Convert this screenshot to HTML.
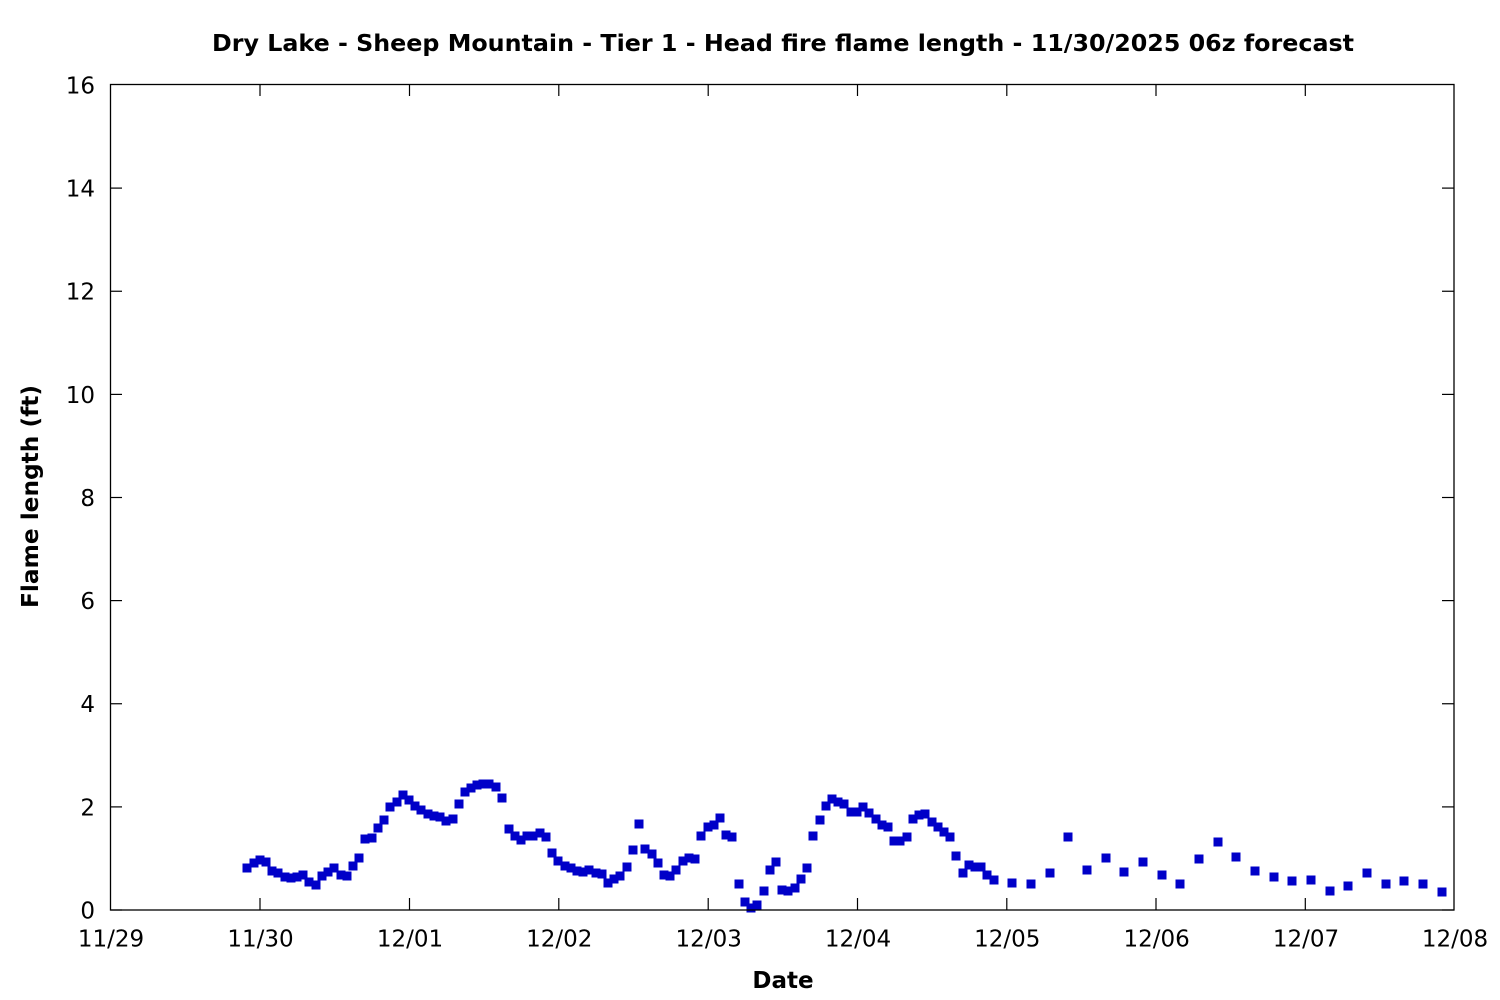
<!DOCTYPE html>
<html>
<head>
<meta charset="utf-8">
<style>
html,body{margin:0;padding:0;background:#fff;}
svg{display:block;}
text{font-family:"DejaVu Sans","Liberation Sans",sans-serif;fill:#000;}
</style>
</head>
<body>
<svg width="1500" height="1000" viewBox="0 0 1500 1000" xmlns="http://www.w3.org/2000/svg">
<rect x="0" y="0" width="1500" height="1000" fill="#fff"/>

<!-- Title -->
<text x="783" y="51" text-anchor="middle" font-size="23" font-weight="bold" textLength="1142" lengthAdjust="spacingAndGlyphs">Dry Lake - Sheep Mountain - Tier 1 - Head fire flame length - 11/30/2025 06z forecast</text>

<!-- Y label -->
<text transform="translate(38,496.5) rotate(-90)" x="0" y="0" text-anchor="middle" font-size="23" font-weight="bold" textLength="223" lengthAdjust="spacingAndGlyphs">Flame length (ft)</text>

<!-- X label -->
<text x="783" y="988" text-anchor="middle" font-size="23" font-weight="bold">Date</text>

<!-- Y ticks -->
<g stroke="#000" stroke-width="1.2">
<line x1="110.5" y1="910" x2="122" y2="910"/><line x1="1454" y1="910" x2="1442" y2="910"/>
<line x1="110.5" y1="806.9" x2="122" y2="806.9"/><line x1="1454" y1="806.9" x2="1442" y2="806.9"/>
<line x1="110.5" y1="703.75" x2="122" y2="703.75"/><line x1="1454" y1="703.75" x2="1442" y2="703.75"/>
<line x1="110.5" y1="600.6" x2="122" y2="600.6"/><line x1="1454" y1="600.6" x2="1442" y2="600.6"/>
<line x1="110.5" y1="497.5" x2="122" y2="497.5"/><line x1="1454" y1="497.5" x2="1442" y2="497.5"/>
<line x1="110.5" y1="394.4" x2="122" y2="394.4"/><line x1="1454" y1="394.4" x2="1442" y2="394.4"/>
<line x1="110.5" y1="291.25" x2="122" y2="291.25"/><line x1="1454" y1="291.25" x2="1442" y2="291.25"/>
<line x1="110.5" y1="188.1" x2="122" y2="188.1"/><line x1="1454" y1="188.1" x2="1442" y2="188.1"/>
</g>
<g stroke="#000" stroke-width="1.2">
<line x1="260" y1="910" x2="260" y2="898"/><line x1="260" y1="85" x2="260" y2="96"/>
<line x1="409.5" y1="910" x2="409.5" y2="898"/><line x1="409.5" y1="85" x2="409.5" y2="96"/>
<line x1="558.8" y1="910" x2="558.8" y2="898"/><line x1="558.8" y1="85" x2="558.8" y2="96"/>
<line x1="708.2" y1="910" x2="708.2" y2="898"/><line x1="708.2" y1="85" x2="708.2" y2="96"/>
<line x1="857.5" y1="910" x2="857.5" y2="898"/><line x1="857.5" y1="85" x2="857.5" y2="96"/>
<line x1="1006.8" y1="910" x2="1006.8" y2="898"/><line x1="1006.8" y1="85" x2="1006.8" y2="96"/>
<line x1="1156" y1="910" x2="1156" y2="898"/><line x1="1156" y1="85" x2="1156" y2="96"/>
<line x1="1305.3" y1="910" x2="1305.3" y2="898"/><line x1="1305.3" y1="85" x2="1305.3" y2="96"/>
</g>

<!-- Y tick labels -->
<g font-size="23" text-anchor="end">
<text x="95" y="918.5">0</text>
<text x="95" y="815.4">2</text>
<text x="95" y="712.2">4</text>
<text x="95" y="609.1">6</text>
<text x="95" y="506">8</text>
<text x="95" y="402.9">10</text>
<text x="95" y="299.7">12</text>
<text x="95" y="196.6">14</text>
<text x="95" y="93.5">16</text>
</g>

<!-- X tick labels -->
<g font-size="23" text-anchor="middle">
<text x="111" y="946.5">11/29</text>
<text x="260.5" y="946.5">11/30</text>
<text x="410" y="946.5">12/01</text>
<text x="559.3" y="946.5">12/02</text>
<text x="708.7" y="946.5">12/03</text>
<text x="858" y="946.5">12/04</text>
<text x="1007.3" y="946.5">12/05</text>
<text x="1156.6" y="946.5">12/06</text>
<text x="1306" y="946.5">12/07</text>
<text x="1455" y="946.5">12/08</text>
</g>

<!-- Data points -->
<path fill="#0000c8" d="
M242.5 863.5h9v9h-9z M249.5 858.5h9v9h-9z M255.5 855.5h9v9h-9z M261.5 857.5h9v9h-9z M267.5 866.5h9v9h-9z
M273.5 868.5h9v9h-9z M280.5 872.5h9v9h-9z M286.5 873.5h9v9h-9z M292.5 872.5h9v9h-9z M298.5 870.5h9v9h-9z
M304.5 877.5h9v9h-9z M311.5 880.5h9v9h-9z M317.5 871.5h9v9h-9z M323.5 867.5h9v9h-9z M329.5 863.5h9v9h-9z
M336.5 870.5h9v9h-9z M342.5 871.5h9v9h-9z M348.5 861.5h9v9h-9z M354.5 853.5h9v9h-9z M360.5 834.5h9v9h-9z
M367.5 833.5h9v9h-9z M373.5 823.5h9v9h-9z M379.5 815.5h9v9h-9z M385.5 802.5h9v9h-9z M392.5 797.5h9v9h-9z
M398.5 790.5h9v9h-9z M404.5 795.5h9v9h-9z M410.5 801.5h9v9h-9z M416.5 805.5h9v9h-9z M423.5 809.5h9v9h-9z
M429.5 811.5h9v9h-9z M435.5 812.5h9v9h-9z M441.5 816.5h9v9h-9z M448.5 814.5h9v9h-9z M454.5 799.5h9v9h-9z
M460.5 787.5h9v9h-9z M466.5 783.5h9v9h-9z M472.5 780.5h9v9h-9z M478.5 779.5h9v9h-9z M484.5 779.5h9v9h-9z
M491.5 782.5h9v9h-9z M497.5 793.5h9v9h-9z M504.5 824.5h9v9h-9z M510.5 831.5h9v9h-9z M516.5 835.5h9v9h-9z
M522.5 831.5h9v9h-9z M528.5 831.5h9v9h-9z M535.5 828.5h9v9h-9z M541.5 832.5h9v9h-9z M547.5 848.5h9v9h-9z
M553.5 856.5h9v9h-9z M560.5 861.5h9v9h-9z M566.5 863.5h9v9h-9z M572.5 866.5h9v9h-9z M578.5 867.5h9v9h-9z
M584.5 865.5h9v9h-9z M591.5 868.5h9v9h-9z M597.5 869.5h9v9h-9z M603.5 878.5h9v9h-9z M609.5 874.5h9v9h-9z
M615.5 871.5h9v9h-9z M622.5 862.5h9v9h-9z M628.5 845.5h9v9h-9z M634.5 819.5h9v9h-9z M640.5 844.5h9v9h-9z
M647.5 849.5h9v9h-9z M653.5 858.5h9v9h-9z M659.5 870.5h9v9h-9z M665.5 871.5h9v9h-9z M671.5 865.5h9v9h-9z
M678.5 856.5h9v9h-9z M684.5 853.5h9v9h-9z M690.5 854.5h9v9h-9z M696.5 831.5h9v9h-9z M703.5 822.5h9v9h-9z
M709.5 820.5h9v9h-9z M715.5 813.5h9v9h-9z M721.5 830.5h9v9h-9z M727.5 832.5h9v9h-9z M734.5 879.5h9v9h-9z
M740.5 897.5h9v9h-9z M746.5 903.5h9v9h-9z M752.5 900.5h9v9h-9z M759.5 886.5h9v9h-9z M765.5 865.5h9v9h-9z
M771.5 857.5h9v9h-9z M777.5 885.5h9v9h-9z M783.5 886.5h9v9h-9z M790.5 883.5h9v9h-9z M796.5 874.5h9v9h-9z
M802.5 863.5h9v9h-9z M808.5 831.5h9v9h-9z M815.5 815.5h9v9h-9z M821.5 801.5h9v9h-9z M827.5 794.5h9v9h-9z
M833.5 797.5h9v9h-9z M839.5 799.5h9v9h-9z M846.5 807.5h9v9h-9z M852.5 807.5h9v9h-9z M858.5 802.5h9v9h-9z
M864.5 808.5h9v9h-9z M871.5 814.5h9v9h-9z M877.5 820.5h9v9h-9z M883.5 822.5h9v9h-9z M889.5 836.5h9v9h-9z
M895.5 836.5h9v9h-9z M902.5 832.5h9v9h-9z M908.5 814.5h9v9h-9z M914.5 810.5h9v9h-9z M920.5 809.5h9v9h-9z
M927.5 817.5h9v9h-9z M933.5 822.5h9v9h-9z M939.5 827.5h9v9h-9z M945.5 832.5h9v9h-9z M951.5 851.5h9v9h-9z
M958.5 868.5h9v9h-9z M964.5 860.5h9v9h-9z M970.5 862.5h9v9h-9z M976.5 862.5h9v9h-9z M982.5 870.5h9v9h-9z
M989.5 875.5h9v9h-9z M1007.5 878.5h9v9h-9z M1026.5 879.5h9v9h-9z M1045.5 868.5h9v9h-9z M1063.5 832.5h9v9h-9z
M1082.5 865.5h9v9h-9z M1101.5 853.5h9v9h-9z M1119.5 867.5h9v9h-9z M1138.5 857.5h9v9h-9z M1157.5 870.5h9v9h-9z
M1175.5 879.5h9v9h-9z M1194.5 854.5h9v9h-9z M1213.5 837.5h9v9h-9z M1231.5 852.5h9v9h-9z M1250.5 866.5h9v9h-9z
M1269.5 872.5h9v9h-9z M1287.5 876.5h9v9h-9z M1306.5 875.5h9v9h-9z M1325.5 886.5h9v9h-9z M1343.5 881.5h9v9h-9z
M1362.5 868.5h9v9h-9z M1381.5 879.5h9v9h-9z M1399.5 876.5h9v9h-9z M1418.5 879.5h9v9h-9z M1437.5 887.5h9v9h-9z
"/>

<!-- Plot border -->
<rect x="110.5" y="84.5" width="1343.5" height="825.5" fill="none" stroke="#000" stroke-width="1.3"/>
</svg>
</body>
</html>
